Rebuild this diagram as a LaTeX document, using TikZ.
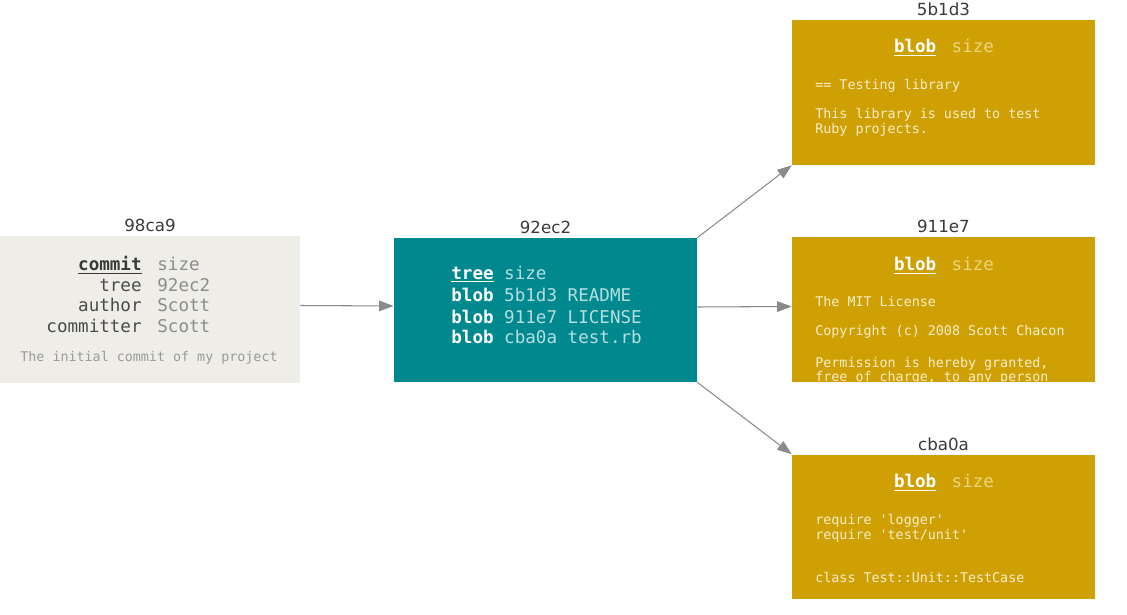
\documentclass[tikz,border=0pt]{standalone}
\usepackage{fontspec}
\setmonofont{DejaVu Sans Mono}
\setsansfont{DejaVu Sans}
\usetikzlibrary{arrows.meta}

\definecolor{commitgray}{HTML}{EEEDE8}
\definecolor{treeteal}{HTML}{00888F}
\definecolor{blobgold}{HTML}{CFA004}
\definecolor{hashgray}{HTML}{3A3A3A}
\definecolor{keygray}{HTML}{4A4A4A}
\definecolor{valgray}{HTML}{8C8C8C}
\definecolor{msggray}{HTML}{9A9A9A}
\definecolor{treeval}{HTML}{B5DEE0}
\definecolor{blobpale}{HTML}{EDD47E}
\definecolor{blobtext}{HTML}{F8EDCB}
\definecolor{linkgray}{HTML}{8A8A8A}

\tikzset{
  objbox/.style={minimum width=6.06cm, minimum height=2.9cm, inner sep=0pt},
  commitbox/.style={objbox, fill=commitgray, minimum width=6cm, minimum height=2.94cm},
  treebox/.style={objbox, fill=treeteal, minimum height=2.88cm},
  blobbox/.style={objbox, fill=blobgold},
  hashlbl/.style={font=\sffamily\fontsize{9.5}{11}\selectfont, text=hashgray, inner sep=2pt},
  keytxt/.style={anchor=base east, inner sep=0pt, font=\ttfamily\fontsize{10}{12}\selectfont, text=keygray},
  valtxt/.style={anchor=base west, inner sep=0pt, font=\ttfamily\fontsize{10}{12}\selectfont, text=valgray},
  msgtxt/.style={anchor=base, inner sep=0pt, font=\ttfamily\fontsize{7.6}{9}\selectfont, text=msggray},
  treeline/.style={anchor=base west, inner sep=0pt, font=\ttfamily\fontsize{10}{12}\selectfont, text=treeval},
  blobhead/.style={inner sep=0pt, font=\ttfamily\fontsize{10}{12}\selectfont, text=blobpale},
  blobline/.style={anchor=base west, inner sep=0pt, font=\ttfamily\fontsize{7.6}{9}\selectfont, text=blobtext},
  link/.style={draw=linkgray, semithick, -{Triangle[length=2.9mm,width=2.1mm]}}
}

\newcommand{\objkind}[2]{\textcolor{#2}{\textbf{\underline{#1}}}}

\begin{document}
\begin{tikzpicture}[x=0.02cm,y=-0.02cm]
  \useasboundingbox (0,0) rectangle (1127,615);

  % objects
  \node[commitbox, label={[hashlbl]above:98ca9}] (commit) at (150,309.5) {};
  \node[treebox, label={[hashlbl]above:92ec2}] (tree) at (545.5,310) {};
  \node[blobbox, label={[hashlbl]above:5b1d3}] (readme) at (943.5,92.5) {};
  \node[blobbox, label={[hashlbl]above:911e7}] (license) at (943.5,309.5) {};
  \node[blobbox, label={[hashlbl]above:cba0a}] (testrb) at (943.5,527) {};

  % commit content
  \node[keytxt] (ck1) at (142,271) {\objkind{commit}{hashgray}};
  \node[keytxt] (ck2) at (142,292) {tree};
  \node[keytxt] (ck3) at (142,312) {author};
  \node[keytxt] (ck4) at (142,333) {committer};
  \node[valtxt] (cv1) at (157,271) {size};
  \node[valtxt] (cv2) at (157,292) {92ec2};
  \node[valtxt] (cv3) at (157,312) {Scott};
  \node[valtxt] (cv4) at (157,333) {Scott};
  \node[msgtxt] (cmsg) at (149,361) {The initial commit of my project};

  % tree content
  \node[treeline] (t1) at (451,279) {\objkind{tree}{white} size};
  \node[treeline] (t2) at (451,301) {\textcolor{white}{\textbf{blob}} 5b1d3 README};
  \node[treeline] (t3) at (451,323) {\textcolor{white}{\textbf{blob}} 911e7 LICENSE};
  \node[treeline] (t4) at (451,343) {\textcolor{white}{\textbf{blob}} cba0a test.rb};

  % blob contents
  \node[blobhead] (rh) at (944,48) {\objkind{blob}{white}\hspace{1.6ex}size};
  \node[blobline] (r1) at (815,90) {== Testing library};
  \node[blobline] (r2) at (815,119) {This library is used to test};
  \node[blobline] (r3) at (815,134) {Ruby projects.};

  \node[blobhead] (lh) at (944,266) {\objkind{blob}{white}\hspace{1.6ex}size};
  \node[blobline] (l1) at (815,306) {The MIT License};
  \node[blobline] (l2) at (815,336) {Copyright (c) 2008 Scott Chacon};
  \node[blobline] (l3) at (815,367) {Permission is hereby granted,};
  \begin{scope}
    \clip (license.south west) rectangle (license.north east);
    \node[blobline] (l4) at (815,381) {free of charge, to any person};
  \end{scope}

  \node[blobhead] (th) at (944,483) {\objkind{blob}{white}\hspace{1.6ex}size};
  \node[blobline] (tb1) at (815,524) {require 'logger'};
  \node[blobline] (tb2) at (815,539) {require 'test/unit'};
  \node[blobline] (tb3) at (815,582) {class Test::Unit::TestCase};

  % links
  \draw[link] ([yshift=0.08cm]commit.east) -- ([yshift=0.08cm]tree.west);
  \draw[link] (tree.north east) -- (readme.south west);
  \draw[link] ([yshift=0.06cm]tree.east) -- ([yshift=0.06cm]license.west);
  \draw[link] (tree.south east) -- (testrb.north west);
\end{tikzpicture}
\end{document}
